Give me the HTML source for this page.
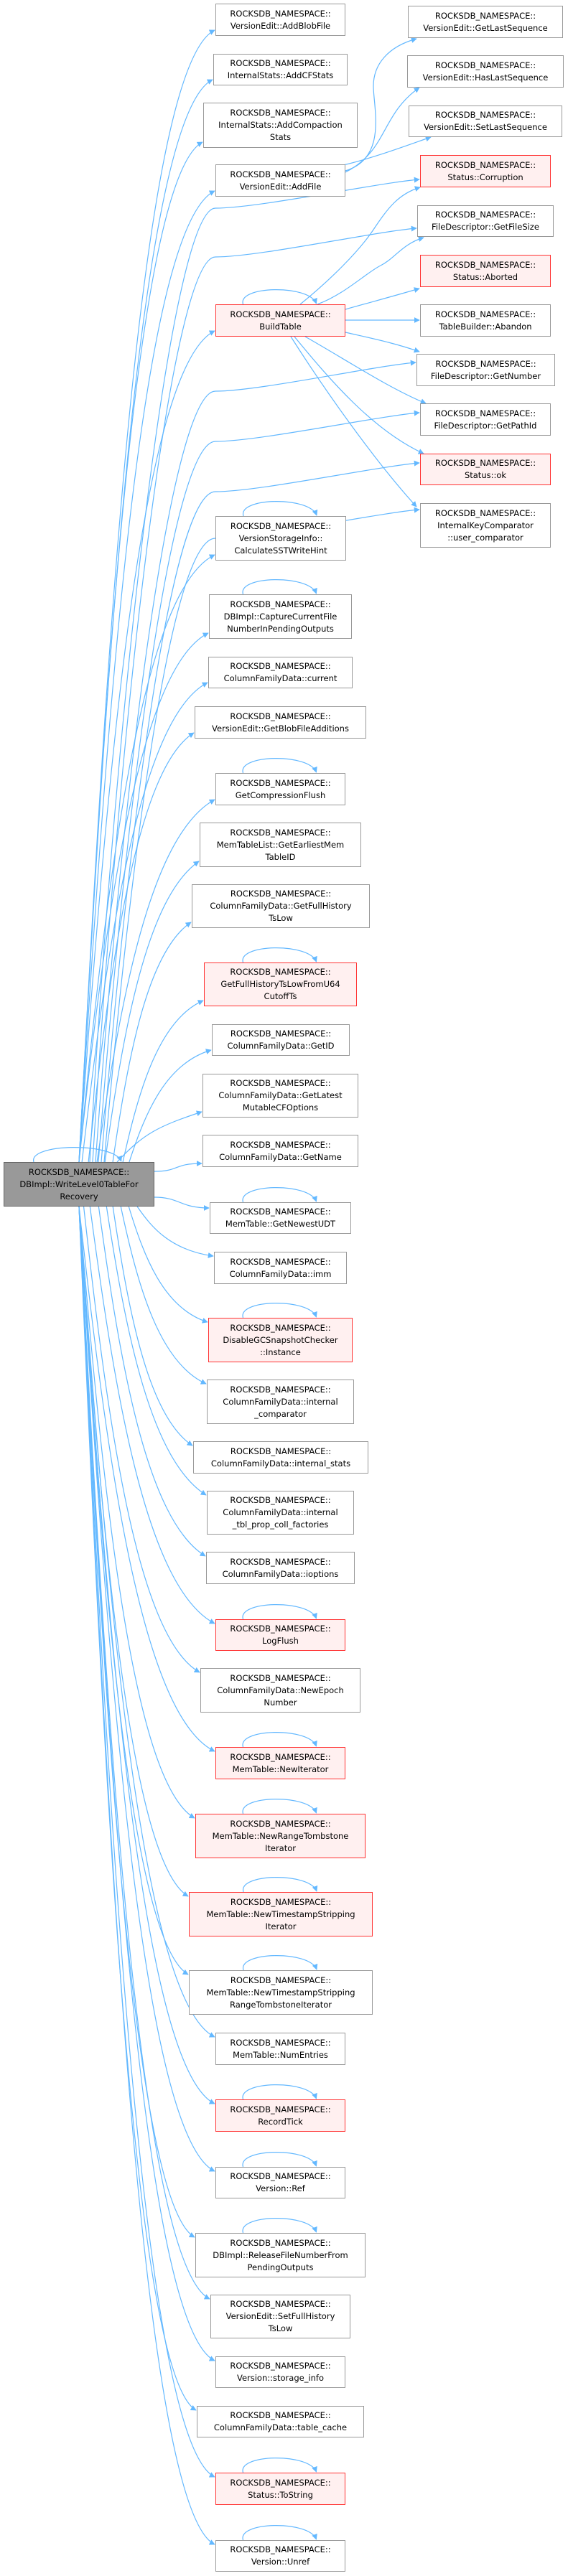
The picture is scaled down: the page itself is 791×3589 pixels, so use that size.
<!DOCTYPE html>
<html><head><meta charset="utf-8">
<style>
html,body{margin:0;padding:0;background:#fff;}
body{width:791px;height:3589px;position:relative;overflow:hidden;font-family:"DejaVu Sans","Liberation Sans",sans-serif;}
.n{position:absolute;box-sizing:border-box;border:1.5px solid #999;background:#fff;color:#000;font-size:11.5px;line-height:17px;text-align:center;display:flex;align-items:center;justify-content:center;white-space:nowrap;}
.r{border-color:#ff3333;background:#fff0f0;}
.m{background:#999;border-color:#666;}
svg{position:absolute;left:0;top:0;}
</style></head><body>
<svg id="s" width="791" height="3589" viewBox="0 0 791 3589">
<defs><marker id="a" viewBox="0 0 10 10" refX="9" refY="5" markerWidth="8" markerHeight="8" markerUnits="userSpaceOnUse" orient="auto"><path d="M0,0 L10,5 L0,10 z" fill="#63b8ff"/></marker></defs>
<g id="g" fill="none" stroke="#63b8ff" stroke-width="1.2"></g>
</svg>

<div class="n m" style="left:5px;top:1619px;width:210px;height:62px;">ROCKSDB_NAMESPACE::<br>DBImpl::WriteLevel0TableFor<br>Recovery</div>

<div class="n" style="left:300px;top:5px;width:181px;height:45px;">ROCKSDB_NAMESPACE::<br>VersionEdit::AddBlobFile</div>
<div class="n" style="left:297px;top:75px;width:187px;height:44px;">ROCKSDB_NAMESPACE::<br>InternalStats::AddCFStats</div>
<div class="n" style="left:283px;top:143px;width:215px;height:63px;">ROCKSDB_NAMESPACE::<br>InternalStats::AddCompaction<br>Stats</div>
<div class="n" style="left:300px;top:229px;width:181px;height:45px;">ROCKSDB_NAMESPACE::<br>VersionEdit::AddFile</div>
<div class="n r" style="left:300px;top:424px;width:181px;height:45px;">ROCKSDB_NAMESPACE::<br>BuildTable</div>

<div class="n" style="left:568px;top:8px;width:216px;height:45px;">ROCKSDB_NAMESPACE::<br>VersionEdit::GetLastSequence</div>
<div class="n" style="left:567px;top:77px;width:218px;height:45px;">ROCKSDB_NAMESPACE::<br>VersionEdit::HasLastSequence</div>
<div class="n" style="left:569px;top:147px;width:214px;height:44px;">ROCKSDB_NAMESPACE::<br>VersionEdit::SetLastSequence</div>
<div class="n r" style="left:585px;top:216px;width:182px;height:45px;">ROCKSDB_NAMESPACE::<br>Status::Corruption</div>
<div class="n" style="left:581px;top:286px;width:190px;height:44px;">ROCKSDB_NAMESPACE::<br>FileDescriptor::GetFileSize</div>
<div class="n r" style="left:585px;top:355px;width:182px;height:45px;">ROCKSDB_NAMESPACE::<br>Status::Aborted</div>
<div class="n" style="left:585px;top:424px;width:182px;height:45px;">ROCKSDB_NAMESPACE::<br>TableBuilder::Abandon</div>
<div class="n" style="left:580px;top:493px;width:193px;height:45px;">ROCKSDB_NAMESPACE::<br>FileDescriptor::GetNumber</div>
<div class="n" style="left:585px;top:562px;width:182px;height:45px;">ROCKSDB_NAMESPACE::<br>FileDescriptor::GetPathId</div>
<div class="n r" style="left:585px;top:632px;width:182px;height:44px;">ROCKSDB_NAMESPACE::<br>Status::ok</div>
<div class="n" style="left:585px;top:701px;width:182px;height:62px;">ROCKSDB_NAMESPACE::<br>InternalKeyComparator<br>::user_comparator</div>

<div class="n" style="left:300px;top:719px;width:182px;height:62px;">ROCKSDB_NAMESPACE::<br>VersionStorageInfo::<br>CalculateSSTWriteHint</div>
<div class="n" style="left:291px;top:828px;width:199px;height:62px;">ROCKSDB_NAMESPACE::<br>DBImpl::CaptureCurrentFile<br>NumberInPendingOutputs</div>
<div class="n" style="left:290px;top:915px;width:201px;height:44px;">ROCKSDB_NAMESPACE::<br>ColumnFamilyData::current</div>
<div class="n" style="left:271px;top:984px;width:239px;height:45px;">ROCKSDB_NAMESPACE::<br>VersionEdit::GetBlobFileAdditions</div>
<div class="n" style="left:300px;top:1077px;width:181px;height:45px;">ROCKSDB_NAMESPACE::<br>GetCompressionFlush</div>
<div class="n" style="left:278px;top:1146px;width:225px;height:62px;">ROCKSDB_NAMESPACE::<br>MemTableList::GetEarliestMem<br>TableID</div>
<div class="n" style="left:267px;top:1232px;width:248px;height:61px;">ROCKSDB_NAMESPACE::<br>ColumnFamilyData::GetFullHistory<br>TsLow</div>
<div class="n r" style="left:284px;top:1341px;width:213px;height:61px;">ROCKSDB_NAMESPACE::<br>GetFullHistoryTsLowFromU64<br>CutoffTs</div>
<div class="n" style="left:295px;top:1427px;width:192px;height:44px;">ROCKSDB_NAMESPACE::<br>ColumnFamilyData::GetID</div>
<div class="n" style="left:282px;top:1496px;width:217px;height:61px;">ROCKSDB_NAMESPACE::<br>ColumnFamilyData::GetLatest<br>MutableCFOptions</div>
<div class="n" style="left:282px;top:1581px;width:217px;height:45px;">ROCKSDB_NAMESPACE::<br>ColumnFamilyData::GetName</div>
<div class="n" style="left:292px;top:1675px;width:197px;height:44px;">ROCKSDB_NAMESPACE::<br>MemTable::GetNewestUDT</div>
<div class="n" style="left:298px;top:1744px;width:185px;height:45px;">ROCKSDB_NAMESPACE::<br>ColumnFamilyData::imm</div>
<div class="n r" style="left:290px;top:1836px;width:201px;height:62px;">ROCKSDB_NAMESPACE::<br>DisableGCSnapshotChecker<br>::Instance</div>
<div class="n" style="left:288px;top:1922px;width:205px;height:62px;">ROCKSDB_NAMESPACE::<br>ColumnFamilyData::internal<br>_comparator</div>
<div class="n" style="left:269px;top:2008px;width:244px;height:45px;">ROCKSDB_NAMESPACE::<br>ColumnFamilyData::internal_stats</div>
<div class="n" style="left:288px;top:2077px;width:205px;height:61px;">ROCKSDB_NAMESPACE::<br>ColumnFamilyData::internal<br>_tbl_prop_coll_factories</div>
<div class="n" style="left:287px;top:2162px;width:207px;height:45px;">ROCKSDB_NAMESPACE::<br>ColumnFamilyData::ioptions</div>
<div class="n r" style="left:300px;top:2256px;width:181px;height:44px;">ROCKSDB_NAMESPACE::<br>LogFlush</div>
<div class="n" style="left:279px;top:2324px;width:223px;height:62px;">ROCKSDB_NAMESPACE::<br>ColumnFamilyData::NewEpoch<br>Number</div>
<div class="n r" style="left:300px;top:2434px;width:181px;height:45px;">ROCKSDB_NAMESPACE::<br>MemTable::NewIterator</div>
<div class="n r" style="left:272px;top:2527px;width:237px;height:62px;">ROCKSDB_NAMESPACE::<br>MemTable::NewRangeTombstone<br>Iterator</div>
<div class="n r" style="left:263px;top:2636px;width:256px;height:62px;">ROCKSDB_NAMESPACE::<br>MemTable::NewTimestampStripping<br>Iterator</div>
<div class="n" style="left:263px;top:2745px;width:256px;height:62px;">ROCKSDB_NAMESPACE::<br>MemTable::NewTimestampStripping<br>RangeTombstoneIterator</div>
<div class="n" style="left:300px;top:2832px;width:181px;height:45px;">ROCKSDB_NAMESPACE::<br>MemTable::NumEntries</div>
<div class="n r" style="left:300px;top:2925px;width:181px;height:45px;">ROCKSDB_NAMESPACE::<br>RecordTick</div>
<div class="n" style="left:300px;top:3019px;width:181px;height:44px;">ROCKSDB_NAMESPACE::<br>Version::Ref</div>
<div class="n" style="left:272px;top:3111px;width:237px;height:62px;">ROCKSDB_NAMESPACE::<br>DBImpl::ReleaseFileNumberFrom<br>PendingOutputs</div>
<div class="n" style="left:293px;top:3197px;width:195px;height:61px;">ROCKSDB_NAMESPACE::<br>VersionEdit::SetFullHistory<br>TsLow</div>
<div class="n" style="left:300px;top:3283px;width:181px;height:44px;">ROCKSDB_NAMESPACE::<br>Version::storage_info</div>
<div class="n" style="left:274px;top:3352px;width:233px;height:44px;">ROCKSDB_NAMESPACE::<br>ColumnFamilyData::table_cache</div>
<div class="n r" style="left:300px;top:3445px;width:181px;height:45px;">ROCKSDB_NAMESPACE::<br>Status::ToString</div>
<div class="n" style="left:300px;top:3539px;width:181px;height:44px;">ROCKSDB_NAMESPACE::<br>Version::Unref</div>

<script>
(function(){
var g=document.getElementById('g');
function P(d){var p=document.createElementNS('http://www.w3.org/2000/svg','path');p.setAttribute('d',d);p.setAttribute('marker-end','url(#a)');g.appendChild(p);}
// main-column targets: [left, top, h, w]
var T=[[300,5,45],[297,75,44],[283,143,63],[300,229,45],[300,424,45],[300,719,62],[291,828,62],[290,915,44],[271,984,45],[300,1077,45],[278,1146,62],[267,1232,61],[284,1341,61],[295,1427,44],[282,1496,61],[282,1581,45],[292,1675,44],[298,1744,45],[290,1836,62],[288,1922,62],[269,2008,45],[288,2077,61],[287,2162,45],[300,2256,44],[279,2324,62],[300,2434,45],[272,2527,62],[263,2636,62],[263,2745,62],[300,2832,45],[300,2925,45],[300,3019,44],[272,3111,62],[293,3197,61],[300,3283,44],[274,3352,44],[300,3445,45],[300,3539,44]];
var MT=1619,MB=1681;
T.forEach(function(t){
 var tx=t[0]-1,cy=t[1]+t[2]/2;
 if(cy<1560){ // above
  var ty=t[1]+t[2]-8;var dy=MT-ty;var sx=Math.max(110,200-90*Math.min(1,dy/700));
  if(dy<120){P('M163,'+MT+' C200,'+(MT-40)+' '+(tx-60)+','+(ty+20)+' '+tx+','+ty);return;}
  var dx=tx-sx;
  P('M'+sx+','+MT+' C'+(sx+0.2*dx)+','+(ty+0.55*dy)+' '+(tx-0.55*dx)+','+(ty+Math.min(50,0.12*dy))+' '+tx+','+ty);
 } else if(cy<1700){
  var ty=cy<1610?t[1]+t[2]-5:t[1]+8;var sy=cy<1610?1632:1668;
  P('M215,'+sy+' C250,'+sy+' '+(tx-40)+','+ty+' '+tx+','+ty);
 } else { // below
  var ty=t[1]+6;var dy=ty-MB;var sx=Math.max(110,200-90*Math.min(1,dy/700));var dx=tx-sx;
  P('M'+sx+','+MB+' C'+(sx+0.2*dx)+','+(ty-0.55*dy)+' '+(tx-0.55*dx)+','+(ty-Math.min(50,0.12*dy))+' '+tx+','+ty);
 }
});
// main to right column
[[585,250],[581,318],[580,505],[585,575],[585,645],[585,710]].forEach(function(t,i){
 var sx=125+i*4,tx=t[0]-1,ty=t[1];var dy=MT-ty;
 P('M'+sx+','+MT+' C'+(sx+40)+','+(ty+0.5*dy)+' 240,'+(ty+40)+' 300,'+(ty+40)+' S'+(tx-60)+','+(ty+5)+' '+tx+','+ty);
});
// AddFile edges
P('M481,238 C540,220 520,150 520,120 C520,90 540,65 580,54');
P('M481,240 C540,210 530,160 584,122');
P('M478,230 C520,220 560,205 600,191');
// BuildTable edges
P('M418,424 C460,390 500,350 520,320 C540,290 555,270 585,261');
P('M442,424 C480,410 510,380 530,370 C550,360 560,340 590,331');
P('M481,431 C520,420 550,412 584,402');
P('M481,446 L584,446');
P('M481,463 C520,472 550,478 584,490');
P('M425,469 C480,500 540,540 593,562');
P('M410,469 C460,530 520,600 590,632');
P('M405,469 C450,540 520,640 580,706');
// self loops
function L(x,w,top){var a=x+w*0.2,b=x+w*0.78;P('M'+a+','+top+' C'+(a-8)+','+(top-26)+' '+(b-10)+','+(top-28)+' '+b+','+(top-1));}
L(5,210,1619);
[[300,181,424],[300,182,719],[291,199,828],[300,181,1077],[284,213,1341],[292,197,1675],[290,201,1836],[300,181,2256],[300,181,2434],[272,237,2527],[263,256,2636],[263,256,2745],[300,181,2925],[300,181,3019],[272,237,3111],[300,181,3445],[300,181,3539]].forEach(function(n){var c=n[0]+n[1]/2;var a=c-52,b=c+50,top=n[2];P('M'+a+','+top+' C'+(a-8)+','+(top-26)+' '+(b-10)+','+(top-28)+' '+b+','+(top-1));});
})();
</script>
</body></html>
